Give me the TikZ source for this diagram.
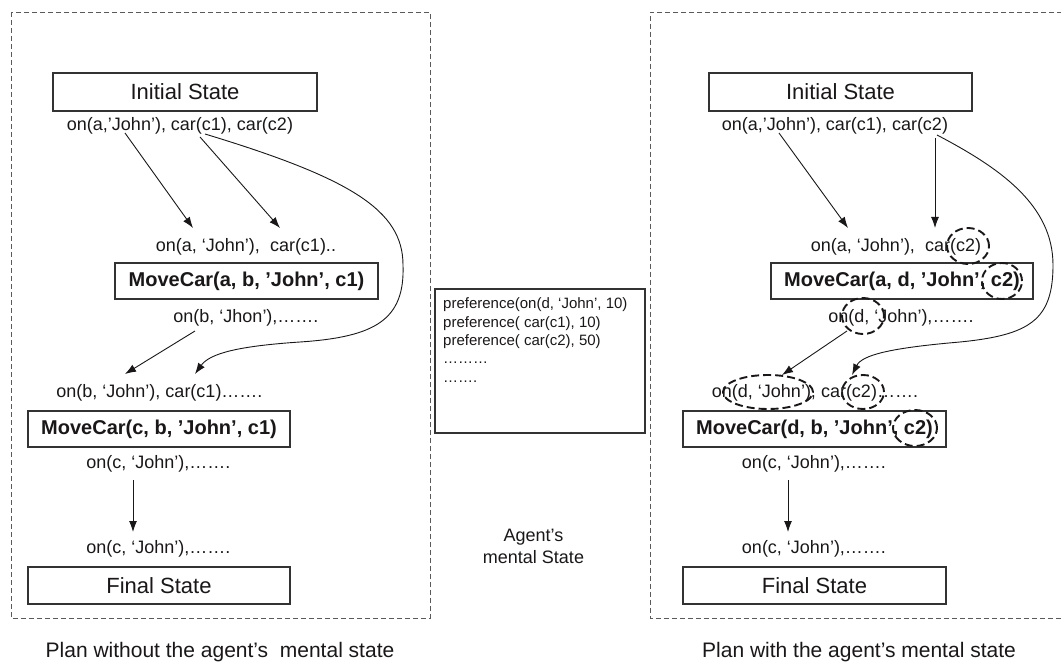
\documentclass[tikz,border=0pt]{standalone}
\usepackage{fontspec}
\setmainfont{Liberation Sans}
\usetikzlibrary{arrows.meta,shapes.geometric}
\definecolor{ink}{HTML}{1A1718}
\definecolor{boxc}{HTML}{333333}
\definecolor{frame}{HTML}{5A5A5A}
\begin{document}
\begin{tikzpicture}[x=1pt,y=-1pt,
  panel/.style={draw=frame, line width=0.9pt, dash pattern=on 5pt off 3pt},
  sbox/.style={draw=boxc, line width=1.3pt, fill=white, inner sep=0pt, font=\fontsize{22}{26}\selectfont, text=ink},
  abox/.style={sbox, font=\fontsize{20}{24}\selectfont\bfseries},
  lbl/.style={inner sep=0pt, font=\fontsize{18}{22}\selectfont, text=ink},
  pref/.style={inner sep=0pt, anchor=west, font=\fontsize{15}{18}\selectfont, text=ink},
  conn/.style={draw=ink, line width=0.9pt, -{Latex[length=11pt,width=8pt]}},
  hl/.style={ellipse, draw=ink, line width=1.9pt, dash pattern=on 8pt off 4pt, inner sep=0pt},
  captxt/.style={inner sep=0pt, font=\fontsize{21}{25}\selectfont, text=ink}]
\useasboundingbox (0,0) rectangle (1061,663);

% panels
\draw[panel] (11,12) rectangle (430,618);
\draw[panel] (1070,12) -- (650,12) -- (650,618) -- (1070,618);

% ---------- left plan ----------
\node[sbox, minimum width=264pt, minimum height=38pt] (lInit) at (185,92) {Initial State};
\node[lbl] (lInitTxt) at (180,126) {on(a,’John’), car(c1), car(c2)};
\node[lbl] (lPre1) at (246,247) {on(a, ‘John’),\ \ car(c1)..};
\node[abox, minimum width=263pt, minimum height=36pt] (lMove1) at (246.5,281) {MoveCar(a, b, ’John’, c1)};
\node[lbl] (lPost1) at (246,318) {on(b, ‘Jhon’),…….};
\node[lbl] (lPre2) at (159.5,393) {on(b, ‘John’), car(c1)…….};
\node[abox, minimum width=262pt, minimum height=36pt] (lMove2) at (159,429) {MoveCar(c, b, ’John’, c1)};
\node[lbl] (lPost2) at (158.5,464) {on(c, ‘John’),…….};
\node[lbl] (lPre3) at (158.5,549) {on(c, ‘John’),…….};
\node[sbox, minimum width=262pt, minimum height=37pt] (lFinal) at (159,585.5) {Final State};
\node[captxt] (lCap) at (220,652) {Plan without the agent’s\ \ mental state};

\coordinate (la1s) at (125,133); \coordinate (la1e) at (193,228);
\coordinate (la2s) at (200,137); \coordinate (la2e) at (280,228);
\coordinate (lc0) at (205,134);  \coordinate (lc1) at (195,374);
\coordinate (la3s) at (195,331); \coordinate (la3e) at (125,374);
\coordinate (la4s) at (133,480); \coordinate (la4e) at (133,532);
\draw[conn] (la1s) -- (la1e);
\draw[conn] (la2s) -- (la2e);
\draw[conn] (lc0) .. controls (350,178) and (403,210) .. (403,265)
  .. controls (405,320) and (375,337) .. (300,342)
  .. controls (240,346) and (210,353) .. (lc1);
\draw[conn] (la3s) -- (la3e);
\draw[conn] (la4s) -- (la4e);

% ---------- agent's mental state ----------
\node[draw=boxc, line width=1.3pt, minimum width=210pt, minimum height=144pt, inner sep=0pt] (mind) at (540,361) {};
\node[pref] (p1) at (443,305) {preference(on(d, ‘John’, 10)};
\node[pref] (p2) at (443,324) {preference( car(c1), 10)};
\node[pref] (p3) at (443,342) {preference( car(c2), 50)};
\node[pref] (p4) at (443,363) {………};
\node[pref] (p5) at (443,382) {…….};
\node[lbl] (ag1) at (533.5,537) {Agent’s};
\node[lbl] (ag2) at (533.5,557) {mental State};

% ---------- right plan ----------
\node[sbox, minimum width=263pt, minimum height=38pt] (rInit) at (840.5,92) {Initial State};
\node[lbl] (rInitTxt) at (835,126) {on(a,’John’), car(c1), car(c2)};
\node[lbl] (rPre1) at (896,247) {on(a, ‘John’),\ \ car(c2)};
\node[abox, minimum width=262pt, minimum height=36pt] (rMove1) at (902,281) {MoveCar(a, d, ’John’, c2)};
\node[lbl] (rPost1) at (901,318) {on(d, ‘John’),…….};
\node[lbl] (rPre2) at (815,393) {on(d, ‘John’), car(c2)…….};
\node[abox, minimum width=263pt, minimum height=36pt] (rMove2) at (814.5,429) {MoveCar(d, b, ’John’, c2)};
\node[lbl] (rPost2) at (814,464) {on(c, ‘John’),…….};
\node[lbl] (rPre3) at (814,549) {on(c, ‘John’),…….};
\node[sbox, minimum width=263pt, minimum height=37pt] (rFinal) at (814.5,585.5) {Final State};
\node[captxt] (rCap) at (859,652) {Plan with the agent’s mental state};

\coordinate (rb1s) at (779,133); \coordinate (rb1e) at (848,228);
\coordinate (rb2s) at (935,138); \coordinate (rb2e) at (935,228);
\coordinate (rc0) at (937,135);  \coordinate (rc1) at (852,375);
\coordinate (rb3s) at (847,331); \coordinate (rb3e) at (782,375);
\coordinate (rb4s) at (788,480); \coordinate (rb4e) at (788,532);
\draw[conn] (rb1s) -- (rb1e);
\draw[conn] (rb2s) -- (rb2e);
\draw[conn] (rc0) .. controls (1000,168) and (1053,205) .. (1053,265)
  .. controls (1053,320) and (1030,335) .. (960,342)
  .. controls (890,348) and (862,355) .. (rc1);
\draw[conn] (rb3s) -- (rb3e);
\draw[conn] (rb4s) -- (rb4e);

% dashed highlights
\node[hl, minimum width=42pt, minimum height=36pt] (h1) at (968,246) {};
\node[hl, minimum width=40pt, minimum height=36pt] (h2) at (1002,281) {};
\node[hl, minimum width=42pt, minimum height=36pt] (h3) at (863,316) {};
\node[hl, minimum width=90pt, minimum height=34pt] (h4) at (768,392) {};
\node[hl, minimum width=42pt, minimum height=34pt] (h5) at (863,392) {};
\node[hl, minimum width=44pt, minimum height=36pt] (h6) at (915,428) {};
\end{tikzpicture}
\end{document}
